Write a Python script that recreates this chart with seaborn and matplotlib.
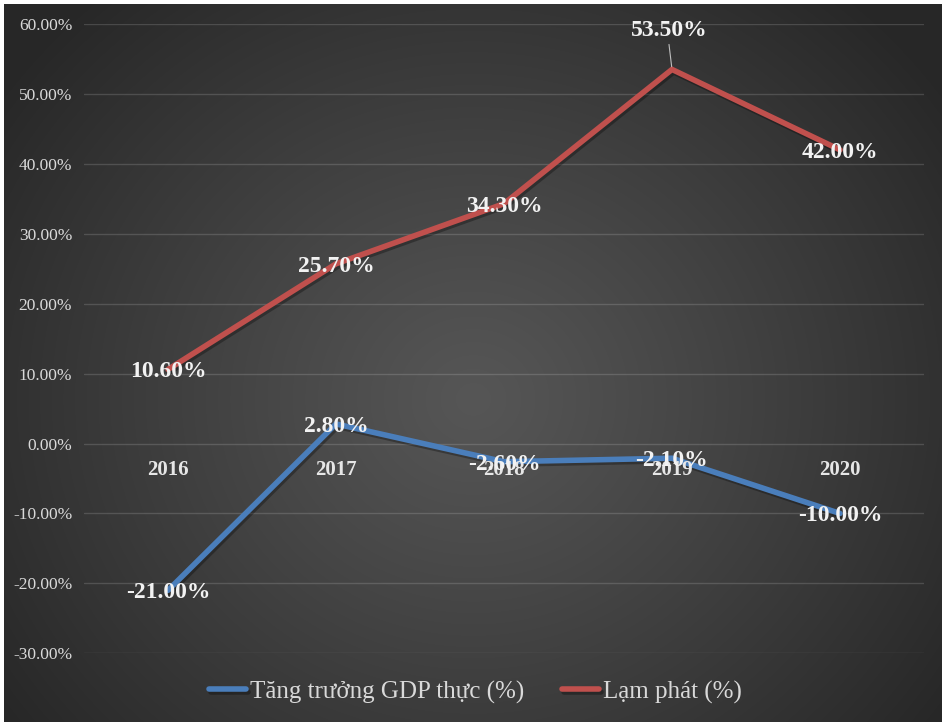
import numpy as np
import pandas as pd
import matplotlib
matplotlib.use("Agg")
import matplotlib.pyplot as plt
import matplotlib.patheffects as pe
import seaborn as sns

# Chart data
years = ["2016", "2017", "2018", "2019", "2020"]
gdp_growth = [-21.00, 2.80, -2.60, -2.10, -10.00]
inflation = [10.60, 25.70, 34.30, 53.50, 42.00]
series_names = ["Tăng trưởng GDP thực (%)", "Lạm phát (%)"]
y_ticks = [-30, -20, -10, 0, 10, 20, 30, 40, 50, 60]

series_colors = ["#4a7ebb", "#c0504d"]

df = pd.DataFrame({
    "Năm": years * 2,
    "Giá trị": gdp_growth + inflation,
    "Chỉ tiêu": [series_names[0]] * len(years) + [series_names[1]] * len(years),
})

sns.set_theme(style="dark")
plt.rcParams["font.family"] = ["Liberation Serif", "DejaVu Serif"]

W, H = 942, 722
fig = plt.figure(figsize=(W / 100, H / 100), dpi=100, facecolor="white")

# Radial gradient background (dark edges, lighter centre)
bg = fig.add_axes([4 / W, 0, (W - 4) / W, (H - 4) / H])
bh, bw = H - 4, W - 4
yy, xx = np.mgrid[0:bh, 0:bw]
cx, cy = 0.50 * bw, 0.55 * bh
r = np.sqrt(((xx - cx) / (0.62 * bw)) ** 2 + ((yy - cy) / (0.75 * bh)) ** 2)
t = np.clip(r, 0, 1) ** 1.1
c_in, c_out = 0x56 / 255, 0x27 / 255
val = c_in + (c_out - c_in) * t
img = np.dstack([val, val, val])
bg.imshow(img, aspect="auto", interpolation="bilinear")
bg.set_axis_off()

# Plot area
left, right, top, bottom = 84, 924, 24, 653.3
ax = fig.add_axes([left / W, 1 - bottom / H, (right - left) / W, (bottom - top) / H])
ax.set_facecolor("none")

shadow = [pe.SimpleLineShadow(offset=(1.2, -1.8), shadow_color="black", alpha=0.3), pe.Normal()]
sns.lineplot(data=df, x="Năm", y="Giá trị", hue="Chỉ tiêu", palette=series_colors,
             linewidth=4.0, sort=False, ax=ax, legend=True)
for ln in ax.lines:
    ln.set_path_effects(shadow)
    ln.set_solid_joinstyle("miter")
    ln.set_solid_capstyle("round")

ax.set_xlim(-0.5, len(years) - 0.5)
ax.set_ylim(-30, 60)
ax.set_yticks(y_ticks)
ax.set_yticklabels([f"{v:.2f}%" for v in y_ticks])
ax.set_xticks([])
ax.set_xlabel("")
ax.set_ylabel("")
ax.tick_params(axis="y", length=0, pad=8.5, labelsize=12.5, labelcolor="#d9d9d9")
ax.grid(axis="y", color="white", alpha=0.15, linewidth=1.0)
ax.grid(axis="x", visible=False)
for s in ax.spines.values():
    s.set_visible(False)

# Category labels sit just under the zero line
for i, yr in enumerate(years):
    ax.annotate(yr, (i, 0), xytext=(0, -31), textcoords="offset pixels",
                ha="center", va="baseline", fontsize=15, fontweight="bold",
                color="#e6e6e6")

# Data labels
label_kw = dict(ha="center", va="baseline", fontsize=17, fontweight="bold",
                color="#f2f2f2", textcoords="offset pixels", zorder=5)
for i, v in enumerate(gdp_growth):
    ax.annotate(f"{v:.2f}%", (i, v), xytext=(0, -8), **label_kw)
for i, v in enumerate(inflation):
    if v == max(inflation):
        ax.annotate(f"{v:.2f}%", (i, v), xytext=(-3, 33), **label_kw)
        ax.annotate("", (i, v), xytext=(-3, 25), textcoords="offset pixels",
                    arrowprops=dict(arrowstyle="-", color="#bfbfbf", lw=0.8,
                                    shrinkA=0, shrinkB=2))
    else:
        ax.annotate(f"{v:.2f}%", (i, v), xytext=(0, -8), **label_kw)

# Legend at the bottom
handles, labels = ax.get_legend_handles_labels()
for h in handles:
    h.set_linewidth(4.0)
    h.set_solid_capstyle("round")
ax.legend(handles, labels, loc="center", bbox_to_anchor=(475.5 / W, 1 - 692 / H),
          bbox_transform=fig.transFigure, ncol=2, frameon=False, fontsize=18,
          labelcolor="#d9d9d9", handlelength=1.5, handletextpad=0.15,
          columnspacing=1.5)

fig.savefig("out.png", dpi=100, facecolor=fig.get_facecolor())
